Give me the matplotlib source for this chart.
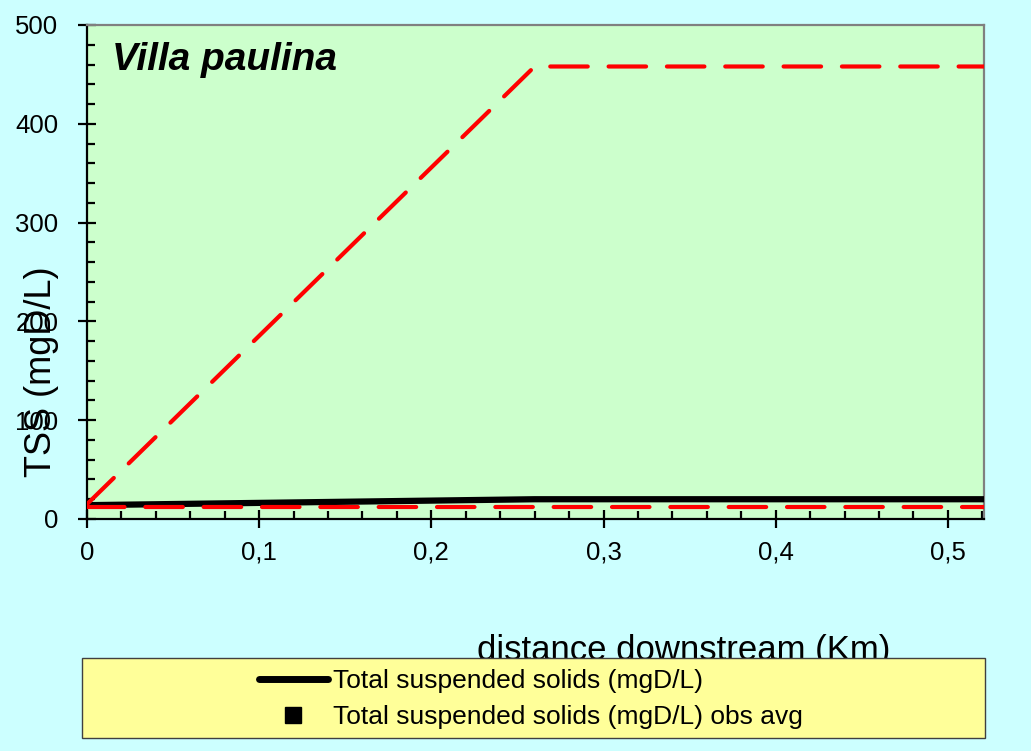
import matplotlib
matplotlib.use("Agg")
import matplotlib.pyplot as plt
from matplotlib.lines import Line2D
from matplotlib.patches import Rectangle
from matplotlib.ticker import MultipleLocator

plt.rcParams['font.family'] = ['Liberation Sans', 'DejaVu Sans']

# data
tss_x = [0.0, 0.26, 0.521]
tss_y = [14, 20, 20]
upper_x = [0.0, 0.26, 0.521]
upper_y = [15, 458, 458]
lower_x = [0.0, 0.521]
lower_y = [12, 12]
xticks = [0, 0.1, 0.2, 0.3, 0.4, 0.5]
xticklabels = ["0", "0,1", "0,2", "0,3", "0,4", "0,5"]
yticks = [0, 100, 200, 300, 400, 500]
title = "Villa paulina"
legend_labels = ["Total suspended solids (mgD/L)", "Total suspended solids (mgD/L) obs avg"]

W, H = 1031, 751
fig = plt.figure(figsize=(W/100, H/100), dpi=100)
fig.patch.set_facecolor('#CCFFFF')
ax = fig.add_axes([87/W, 1-519/H, (984-87)/W, (519-25)/H])
ax.set_facecolor('#CCFFCC')

ax.plot(tss_x, tss_y, color='black', lw=4.5, solid_capstyle='butt', zorder=3)
ax.plot(upper_x, upper_y, color='#FF0000', lw=3, dashes=(9, 5), dash_capstyle='round', zorder=4)
ax.plot(lower_x, lower_y, color='#FF0000', lw=3, dashes=(9, 5), dash_capstyle='round', zorder=4)

ax.set_xlim(0, 0.521)
ax.set_ylim(0, 500)
ax.set_xticks(xticks)
ax.set_xticklabels(xticklabels)
ax.set_yticks(yticks)
ax.xaxis.set_minor_locator(MultipleLocator(0.02))
ax.yaxis.set_minor_locator(MultipleLocator(20))
ax.tick_params(which='major', direction='inout', length=13, width=1.6, labelsize=18.5, color='black')
ax.tick_params(axis='x', which='major', pad=9)
ax.tick_params(axis='y', which='major', pad=14)
ax.tick_params(which='minor', direction='in', length=6, width=1.6, color='black')

for s in ['left', 'bottom']:
    ax.spines[s].set_color('black')
    ax.spines[s].set_linewidth(1.6)
for s in ['top', 'right']:
    ax.spines[s].set_color('#808080')
    ax.spines[s].set_linewidth(1.6)

ax.text(112/W, 1-70/H, title, transform=fig.transFigure, fontsize=28,
        fontweight='bold', fontstyle='italic', va='baseline', ha='left')

fig.text(42/W, 1-372/H, "TSS (mgD/L)", rotation=90, fontsize=26, ha='center', va='center')
fig.text(684/W, 1-660/H, "distance downstream (Km)", fontsize=25, ha='center', va='baseline', zorder=1)

rect = Rectangle((82/W, 1-738/H), (985-82)/W, (738-658)/H, transform=fig.transFigure,
                 facecolor='#FFFF99', edgecolor='#404040', lw=1.0, zorder=5)
fig.patches.append(rect)

handles = [Line2D([], [], color='black', lw=5, solid_capstyle='round'),
           Line2D([], [], color='black', marker='s', ls='none', markersize=11)]
leg = fig.legend(handles, legend_labels, loc='center', bbox_to_anchor=(531/W, 1-699/H),
                 frameon=False, fontsize=19, handlelength=2.6, handletextpad=0.2,
                 labelspacing=0.45, borderpad=0)
leg.set_zorder(6)

fig.savefig('out.png', dpi=100, facecolor=fig.get_facecolor())
